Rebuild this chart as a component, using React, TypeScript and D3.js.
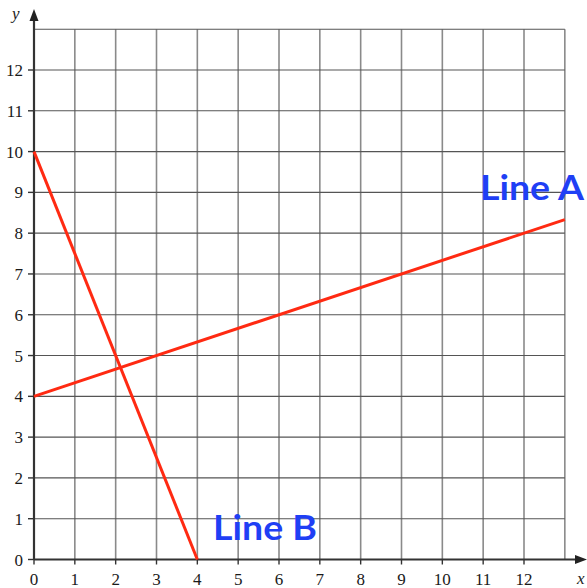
import { useRef, useEffect } from 'react';
import * as d3 from 'd3';

const W = 587;
const H = 588;
const X_TICKS = [0, 1, 2, 3, 4, 5, 6, 7, 8, 9, 10, 11, 12];
const Y_TICKS = [0, 1, 2, 3, 4, 5, 6, 7, 8, 9, 10, 11, 12];
const GRID_MAX = 13;

// line A: y = 4 + x/3, line B: from (0,10) to (4,0)
const LINE_A = [{ x: 0, y: 4 }, { x: 13, y: 8.333 }];
const LINE_B = [{ x: 0, y: 10 }, { x: 4, y: 0 }];

const SERIF = '"Liberation Serif", "DejaVu Serif", "Times New Roman", serif';
const HAND = '"Comic Sans MS", "Lato", "Open Sans", sans-serif';

export default function App() {
  const svgRef = useRef<SVGSVGElement>(null);

  useEffect(() => {
    const svg = d3.select(svgRef.current);
    svg.selectAll('*').remove();

    const x = d3.scaleLinear().domain([0, 12]).range([34, 524]);
    const y = d3.scaleLinear().domain([0, 12]).range([559.5, 70]);

    const grid = d3.range(0, GRID_MAX + 1);

    // vertical grid lines
    svg.append('g').selectAll('line').data(grid.slice(1)).enter()
      .append('line')
      .attr('x1', d => x(d)).attr('x2', d => x(d))
      .attr('y1', y(0)).attr('y2', y(GRID_MAX))
      .attr('stroke', '#8a8a8a').attr('stroke-width', 1.6);

    // horizontal grid lines
    svg.append('g').selectAll('line').data(grid.slice(1)).enter()
      .append('line')
      .attr('x1', x(0)).attr('x2', x(GRID_MAX))
      .attr('y1', d => y(d)).attr('y2', d => y(d))
      .attr('stroke', '#555').attr('stroke-width', 1.1);

    // tick marks
    svg.append('g').selectAll('line').data(Y_TICKS).enter()
      .append('line')
      .attr('x1', x(0) - 6).attr('x2', x(0))
      .attr('y1', d => y(d)).attr('y2', d => y(d))
      .attr('stroke', '#333').attr('stroke-width', 1.4);
    svg.append('g').selectAll('line').data(X_TICKS).enter()
      .append('line')
      .attr('x1', d => x(d)).attr('x2', d => x(d))
      .attr('y1', y(0)).attr('y2', y(0) + 5)
      .attr('stroke', '#333').attr('stroke-width', 1.4);

    // axes
    svg.append('line')
      .attr('x1', x(0)).attr('x2', 578)
      .attr('y1', y(0)).attr('y2', y(0))
      .attr('stroke', '#333').attr('stroke-width', 2.2);
    svg.append('line')
      .attr('x1', x(0)).attr('x2', x(0))
      .attr('y1', y(0)).attr('y2', 16)
      .attr('stroke', '#333').attr('stroke-width', 2.2);

    // arrowheads
    svg.append('path')
      .attr('d', `M${x(0)},9 L${x(0) - 4.5},21 L${x(0) + 4.5},21 Z`)
      .attr('fill', '#222');
    svg.append('path')
      .attr('d', `M587,${y(0)} L575,${y(0) - 4.5} L575,${y(0) + 4.5} Z`)
      .attr('fill', '#222');

    // tick labels
    svg.append('g').selectAll('text').data(Y_TICKS).enter()
      .append('text')
      .attr('x', 23).attr('y', d => y(d) + 6)
      .attr('text-anchor', 'end')
      .style('font-family', SERIF).style('font-size', '17px')
      .attr('fill', '#1a1a1a')
      .text(d => d);
    svg.append('g').selectAll('text').data(X_TICKS).enter()
      .append('text')
      .attr('x', d => x(d)).attr('y', 585)
      .attr('text-anchor', 'middle')
      .style('font-family', SERIF).style('font-size', '17px')
      .attr('fill', '#1a1a1a')
      .text(d => d);

    // axis names
    svg.append('text').attr('x', 12).attr('y', 19)
      .style('font-family', SERIF).attr('font-style', 'italic')
      .style('font-size', '17px').attr('fill', '#222').text('y');
    svg.append('text').attr('x', 577).attr('y', 584)
      .style('font-family', SERIF).attr('font-style', 'italic')
      .style('font-size', '17px').attr('fill', '#222').text('x');

    // lines
    const line = d3.line<{ x: number; y: number }>().x(d => x(d.x)).y(d => y(d.y));
    [LINE_A, LINE_B].forEach(pts => {
      svg.append('path').attr('d', line(pts))
        .attr('fill', 'none').attr('stroke', '#ff2a12').attr('stroke-width', 3);
    });

    // labels
    svg.append('text').attr('x', 480).attr('y', 200)
      .style('font-family', HAND).attr('font-weight', 'bold')
      .style('font-size', '34px').attr('fill', '#1f3ff5')
      .attr('textLength', 104).attr('lengthAdjust', 'spacingAndGlyphs')
      .text('Line A');
    svg.append('text').attr('x', 213).attr('y', 540)
      .style('font-family', HAND).attr('font-weight', 'bold')
      .style('font-size', '34px').attr('fill', '#1f3ff5')
      .attr('textLength', 104).attr('lengthAdjust', 'spacingAndGlyphs')
      .text('Line B');
  }, []);

  return <svg ref={svgRef} width={W} height={H} style={{ position: 'absolute', left: 0, top: 0 }} />;
}
